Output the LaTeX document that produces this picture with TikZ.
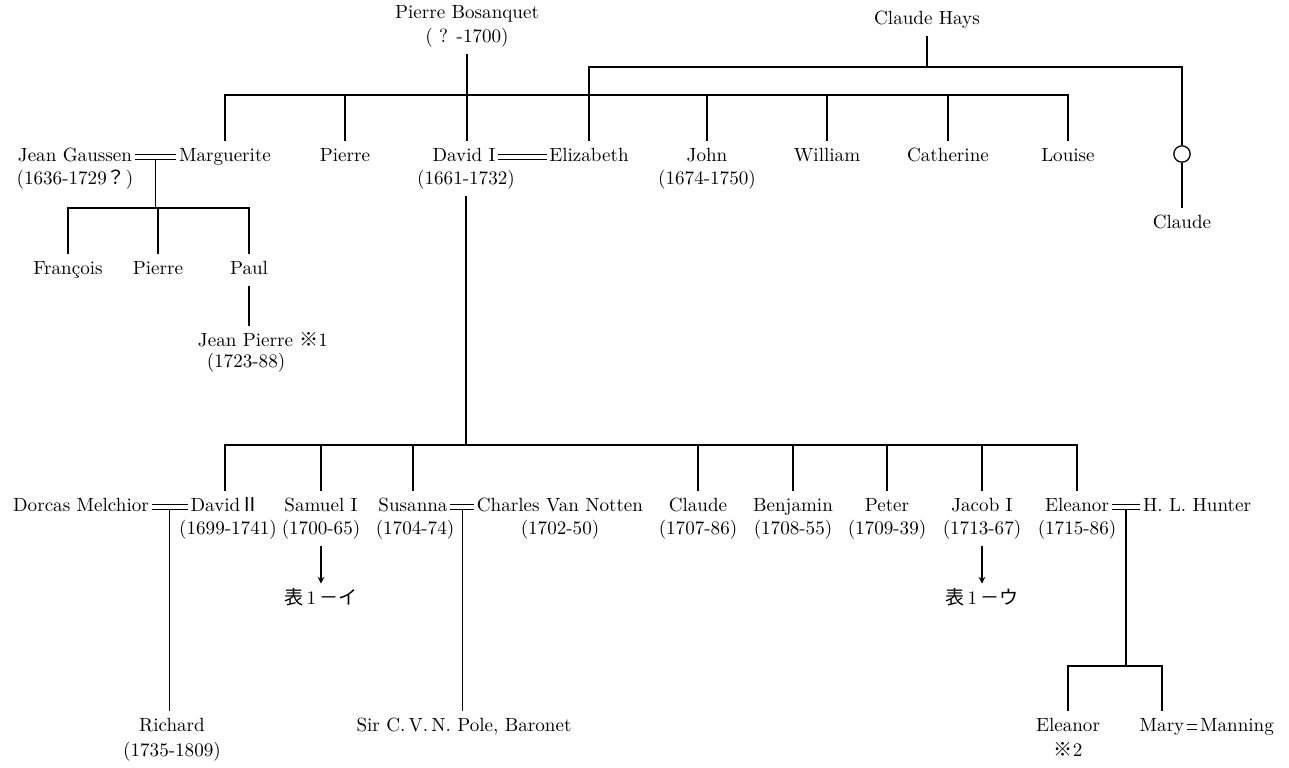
\documentclass[tikz,border=0pt]{standalone}
\usepackage{fontspec}
\newfontfamily\jp{Noto Sans CJK JP}
\usetikzlibrary{calc}

\begin{document}
\begin{tikzpicture}[>=stealth,x=0.55pt,y=-0.55pt,line width=0.7pt,
    who/.style={inner sep=1pt,outer xsep=0.5pt,outer ysep=3.5pt,
      text height=7pt,text depth=2pt,font=\fontsize{10.5}{12.6}\selectfont},
    spouse/.style={double,double distance=1.8pt,line width=0.6pt},
    anon/.style={circle,draw,minimum size=9pt,inner sep=0pt}]
    \useasboundingbox (0,0) rectangle (1289,767);

    % top
    \node[who] (pb) at (467,14) {Pierre Bosanquet};
    \node[who] (pbd) at (467,38) {( ? -1700)};
    \node[who] (hays) at (927,20) {Claude Hays};

    % first generation
    \node[who] (jg) at (75,157) {Jean Gaussen};
    \node[who] (jgd) at (75,180) {(1636-1729{\jp ？})};
    \node[who] (marg) at (225,157) {Marguerite};
    \node[who] (pierre) at (345,157) {Pierre};
    \node[who] (david) at (464,157) {David I};
    \node[who] (davidd) at (466,180) {(1661-1732)};
    \node[who] (eliz) at (589,157) {Elizabeth};
    \node[who] (john) at (707,157) {John};
    \node[who] (johnd) at (707,180) {(1674-1750)};
    \node[who] (will) at (827,157) {William};
    \node[who] (cath) at (948,157) {Catherine};
    \node[who] (louise) at (1068,157) {Louise};
    \node[anon] (ring) at (1182,154) {};
    \node[who] (claude) at (1182,224) {Claude};

    % Gaussen line
    \node[who] (fran) at (68,270) {François};
    \node[who] (pierre2) at (158,270) {Pierre};
    \node[who] (paul) at (249,270) {Paul};
    \node[who] (jp) at (263,342) {Jean Pierre {\jp ※}1};
    \node[who] (jpd) at (246,363) {(1723-88)};

    % children of David I
    \node[who] (dorcas) at (81,507) {Dorcas Melchior};
    \node[who] (david2) at (225,507) {David{\jp Ⅱ}};
    \node[who] (david2d) at (228,530) {(1699-1741)};
    \node[who] (sam) at (321,507) {Samuel I};
    \node[who] (samd) at (321,530) {(1700-65)};
    \node[who] (sus) at (413,507) {Susanna};
    \node[who] (susd) at (415,530) {(1704-74)};
    \node[who] (cvn) at (560,507) {Charles Van Notten};
    \node[who] (cvnd) at (560,530) {(1702-50)};
    \node[who] (claude2) at (698,507) {Claude};
    \node[who] (claude2d) at (698,530) {(1707-86)};
    \node[who] (benj) at (793,507) {Benjamin};
    \node[who] (benjd) at (793,530) {(1708-55)};
    \node[who] (peter) at (887,507) {Peter};
    \node[who] (peterd) at (887,530) {(1709-39)};
    \node[who] (jacob) at (982,507) {Jacob I};
    \node[who] (jacobd) at (982,530) {(1713-67)};
    \node[who] (elea) at (1077,507) {Eleanor};
    \node[who] (elead) at (1077,530) {(1715-86)};
    \node[who] (hunter) at (1197,507) {H. L. Hunter};

    \node[who] (tab1) at (321,600) {{\jp 表}\,1\,{\jp －イ}};
    \node[who] (tab2) at (982,600) {{\jp 表}\,1\,{\jp －ウ}};

    % grandchildren
    \node[who] (rich) at (172,727) {Richard};
    \node[who] (richd) at (172,752) {(1735-1809)};
    \node[who] (pole) at (464,727) {Sir C.\,V.\,N. Pole, Baronet};
    \node[who] (elea2) at (1068,727) {Eleanor};
    \node[who] (note2) at (1068,752) {{\jp ※}2};
    \node[who] (mary) at (1162,727) {Mary};
    \node[who] (mann) at (1237,727) {Manning};

    % lines of descent
    \coordinate (haysbar) at (0,67);
    \coordinate (topbar) at (0,95);
    \draw (pbd) -- (pbd |- david.north);
    \draw (marg) |- (pbd |- topbar) -| (louise);
    \foreach \k in {pierre,john,will,cath} \draw (\k) -- (\k |- topbar);
    \draw (hays) -- (hays |- haysbar);
    \draw (eliz) |- (ring |- haysbar) -- (ring);
    \draw (ring) -- (claude);

    \coordinate (gm) at ($(jg.east)!.5!(marg.west)$);
    \coordinate (gbar) at (0,208);
    \draw (gm) -- (gm |- gbar);
    \draw (fran) |- (gm |- gbar) -| (paul);
    \draw (pierre2) -- (pierre2 |- gbar);
    \draw (paul) -- (paul |- jp.north);

    \coordinate (dbar) at (0,445);
    \draw (davidd) -- (davidd |- dbar);
    \draw (david2) |- (davidd |- dbar) -| (elea);
    \foreach \k in {sam,sus,claude2,benj,peter,jacob} \draw (\k) -- (\k |- dbar);

    \draw[->] (samd) -- (tab1);
    \draw[->] (jacobd) -- (tab2);

    \coordinate (dm) at ($(dorcas.east)!.5!(david2.west)$);
    \draw (dm) -- (dm |- rich.north);
    \coordinate (sc) at ($(sus.east)!.5!(cvn.west)$);
    \draw (sc) -- (sc |- pole.north);
    \coordinate (eh) at ($(elea.east)!.5!(hunter.west)$);
    \coordinate (ebar) at (0,666);
    \draw (eh) -- (eh |- ebar);
    \draw (elea2) |- (eh |- ebar) -| (mary);

    % marriages
    \draw[spouse] (jg) -- (marg);
    \draw[spouse] (david) -- (eliz);
    \draw[spouse] (dorcas) -- (david2);
    \draw[spouse] (sus) -- (cvn);
    \draw[spouse] (elea) -- (hunter);
    \draw[spouse] (mary) -- (mann);
\end{tikzpicture}
\end{document}
